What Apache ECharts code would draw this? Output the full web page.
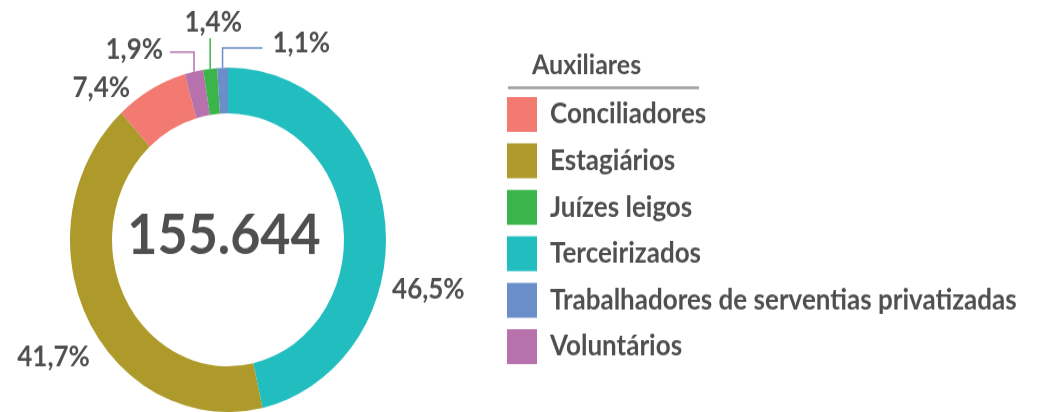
<!DOCTYPE html>
<html>
<head>
<meta charset="utf-8">
<script src="https://cdn.jsdelivr.net/npm/echarts@6/dist/echarts.min.js"></script>
<style>
  html, body { margin: 0; padding: 0; background: #fff; overflow: hidden; }
  #wrap { width: 1063px; height: 412px; overflow: hidden; }
  #chart { width: 1063px; height: 378px; transform: scaleY(1.09); transform-origin: 0 0; }
</style>
</head>
<body>
<div id="wrap"><div id="chart"></div></div>
<script>
// ---- data ----
const categories = ['Terceirizados', 'Estagiários', 'Conciliadores', 'Voluntários', 'Juízes leigos', 'Trabalhadores de serventias privatizadas'];
const shares = [46.5, 41.7, 7.4, 1.9, 1.4, 1.1];
const legendOrder = ['Conciliadores', 'Estagiários', 'Juízes leigos', 'Terceirizados', 'Trabalhadores de serventias privatizadas', 'Voluntários'];
const totalAuxiliares = 155644;
const legendTitle = 'Auxiliares';

// ---- styles ----
const sliceColors = {
  'Terceirizados': '#22BDBF',
  'Estagiários': '#AD9A2B',
  'Conciliadores': '#F27A70',
  'Voluntários': '#B771AC',
  'Juízes leigos': '#3BB54A',
  'Trabalhadores de serventias privatizadas': '#6A8FC8'
};
const labelPlacement = {
  'Terceirizados': { dx: 2, dy: 63 },
  'Estagiários': { dx: 7, dy: 35 },
  'Conciliadores': { dx: -16, dy: -1 },
  'Voluntários': { leader: { rise: 18, run: -24 }, text: { dx: -7, dy: -2, align: 'right' } },
  'Juízes leigos': { leader: { rise: 28, run: 0 }, text: { dx: 3, dy: -14, align: 'center' } },
  'Trabalhadores de serventias privatizadas': { leader: { rise: 18, run: 40 }, text: { dx: 10, dy: -4, align: 'left' } }
};
const FONT = 'Lato, "Open Sans", sans-serif';
const TEXT = '#4f4f4f';

function fmtPct(v) { return v.toFixed(1).replace('.', ',') + '%'; }
function fmtTotal(n) { return String(n).replace(/\B(?=(\d{3})+(?!\d))/g, '.'); }

const chart = echarts.init(document.getElementById('chart'), null, { renderer: 'canvas' });

const seriesData = categories.map((name, i) => {
  const item = {
    name: name,
    value: shares[i],
    itemStyle: { color: sliceColors[name] }
  };
  if (labelPlacement[name].leader) {
    item.labelLine = { show: true, lineStyle: { color: sliceColors[name], width: 1.5 } };
  }
  return item;
});

chart.setOption({
  animation: false,
  backgroundColor: '#fff',
  legend: {
    data: legendOrder,
    orient: 'vertical',
    left: 507,
    top: 89,
    itemWidth: 30,
    itemHeight: 32,
    itemGap: 10.6,
    padding: 0,
    icon: 'rect',
    selectedMode: false,
    textStyle: { fontFamily: FONT, fontWeight: 'bold', fontSize: 26, color: TEXT, padding: [0, 0, 0, 8] }
  },
  graphic: [
    {
      type: 'text', x: 224, y: 216,
      style: { text: fmtTotal(totalAuxiliares), fill: TEXT, font: 'bold 52px ' + FONT, textAlign: 'center', textVerticalAlign: 'middle' }
    },
    {
      type: 'text', x: 532, y: 60,
      style: { text: legendTitle, fill: TEXT, font: 'bold 25px ' + FONT, textAlign: 'left', textVerticalAlign: 'middle' }
    },
    {
      type: 'line', shape: { x1: 508, y1: 80.5, x2: 699, y2: 80.5 },
      style: { stroke: '#9c9c9c', lineWidth: 2.5 }
    }
  ],
  series: [{
    type: 'pie',
    center: [228, 220],
    radius: [116, 158],
    startAngle: 90,
    clockwise: true,
    avoidLabelOverlap: false,
    emphasis: { disabled: true },
    label: {
      show: true,
      position: 'outside',
      formatter: p => fmtPct(p.value),
      fontFamily: FONT,
      fontWeight: 'bold',
      fontSize: 26,
      color: TEXT
    },
    labelLine: { show: false, length: 0, length2: 0 },
    labelLayout: function (params) {
      const name = categories[params.dataIndex];
      const cfg = labelPlacement[name];
      if (cfg.leader && params.labelLinePoints) {
        const p0 = params.labelLinePoints[0];
        const p1 = [p0[0], p0[1] - cfg.leader.rise];
        const p2 = [p1[0] + cfg.leader.run, p1[1]];
        return {
          x: p2[0] + cfg.text.dx,
          y: p2[1] + cfg.text.dy,
          align: cfg.text.align,
          verticalAlign: 'middle',
          labelLinePoints: [p0, p1, p2]
        };
      }
      return { dx: cfg.dx || 0, dy: cfg.dy || 0 };
    },
    data: seriesData
  }]
});
</script>
</body>
</html>
